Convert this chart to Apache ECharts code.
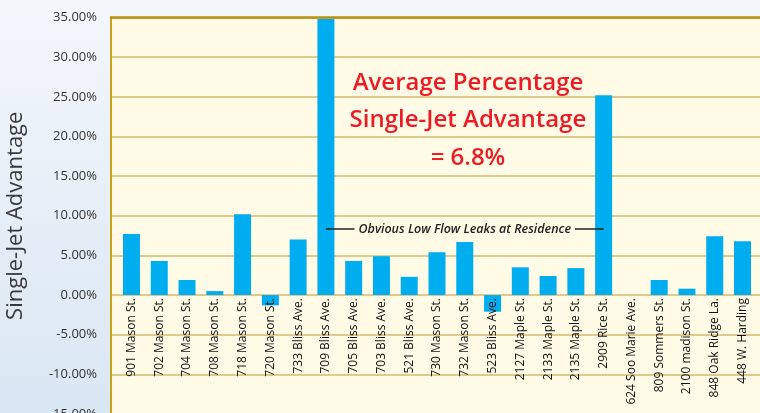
<!DOCTYPE html>
<html>
<head>
<meta charset="utf-8">
<script src="https://cdn.jsdelivr.net/npm/echarts@6/dist/echarts.min.js"></script>
<style>
  html, body { margin: 0; padding: 0; }
  #main { width: 760px; height: 413px; }
</style>
</head>
<body>
<div id="main"></div>
<script>
// addresses along the x axis
const addresses = [
  '901 Mason St.', '702 Mason St.', '704 Mason St.', '708 Mason St.', '718 Mason St.',
  '720 Mason St.', '733 Bliss Ave.', '709 Bliss Ave.', '705 Bliss Ave.', '703 Bliss Ave.',
  '521 Bliss Ave.', '730 Mason St.', '732 Mason St.', '523 Bliss Ave.', '2127 Maple St.',
  '2133 Maple St.', '2135 Maple St.', '2909 Rice St.', '624 Soo Marie Ave.', '809 Sommers St.',
  '2100 madison St.', '848 Oak Ridge La.', '448 W. Harding'
]
// single-jet advantage, percent
const advantage = [
  7.7, 4.3, 1.9, 0.5, 10.2,
  -1.3, 7.0, 34.8, 4.3, 4.9,
  2.3, 5.4, 6.7, -2.1, 3.5,
  2.4, 3.4, 25.2, 0, 1.9,
  0.8, 7.4, 6.8
]
// y axis range
const yMin = -15
const yMax = 35
const yStep = 5
// annotation between the two leak residences
const leakFrom = '709 Bliss Ave.'
const leakTo = '2909 Rice St.'
const leakLevel = 8.3
const leakNote = 'Obvious Low Flow Leaks at Residence'
const avgText = 'Average Percentage\nSingle-Jet Advantage\n= 6.8%'

const chart = echarts.init(document.getElementById('main'))

const plotTop = 17.5
const plotBottom = -1
// the address labels hang from the 0% line
const zeroFromBottom = plotBottom + (413 - plotTop - plotBottom) * (0 - yMin) / (yMax - yMin)

const option = {
  backgroundColor: new echarts.graphic.LinearGradient(0, 0, 0, 1, [
    { offset: 0, color: '#f4f7fc' },
    { offset: 1, color: '#d9e6f3' }
  ]),
  textStyle: { fontFamily: 'Open Sans' },
  title: {
    text: avgText,
    left: 463,
    top: 59,
    textAlign: 'center',
    textStyle: {
      color: '#ed1c24',
      fontSize: 24,
      fontWeight: 600,
      lineHeight: 37.5,
      fontFamily: 'Open Sans'
    }
  },
  grid: [
    // frame: cream background, gridlines, y axis
    { left: 111, right: -10, top: plotTop, bottom: plotBottom, show: true, backgroundColor: '#fffbe7', borderWidth: 0, outerBoundsMode: 'none', containLabel: false },
    // bars
    { left: 117.6, right: 3.6, top: plotTop, bottom: plotBottom, outerBoundsMode: 'none', containLabel: false },
    // address labels, bottom edge on the 0% line
    { left: 117.6, right: 3.6, top: plotTop, bottom: zeroFromBottom, outerBoundsMode: 'none', containLabel: false }
  ],
  xAxis: [
    {
      gridIndex: 0,
      type: 'value',
      position: 'top',
      min: 0,
      max: 1,
      axisLine: { show: true, onZero: false, lineStyle: { color: '#b8900c', width: 2.5 } },
      axisTick: { show: false },
      axisLabel: { show: false },
      splitLine: { show: false }
    },
    {
      gridIndex: 1,
      type: 'category',
      data: addresses,
      axisLine: { show: false },
      axisTick: { show: false },
      axisLabel: { show: false }
    },
    {
      gridIndex: 2,
      type: 'category',
      data: addresses,
      z: 10,
      axisLine: { show: false, onZero: false },
      axisTick: { show: false },
      axisLabel: {
        interval: 0,
        rotate: 90,
        margin: 3,
        fontSize: 12,
        color: '#111',
        fontFamily: 'Open Sans'
      }
    }
  ],
  yAxis: [
    {
      gridIndex: 0,
      type: 'value',
      min: yMin,
      max: yMax,
      interval: yStep,
      name: 'Single-Jet Advantage',
      nameLocation: 'middle',
      nameGap: 84,
      nameTextStyle: { fontSize: 22, color: '#3a3a3a', fontFamily: 'Open Sans', fontWeight: 400 },
      axisLine: { show: true, lineStyle: { color: '#c9a21c', width: 2 } },
      axisTick: { show: false },
      axisLabel: {
        margin: 14,
        fontSize: 13,
        color: '#333',
        formatter: v => v.toFixed(2) + '%'
      },
      splitLine: { show: true, lineStyle: { color: '#e0c98c', width: 2 } }
    },
    {
      gridIndex: 1,
      type: 'value',
      min: yMin,
      max: yMax,
      interval: yStep,
      axisLine: { show: false },
      axisTick: { show: false },
      axisLabel: { show: false },
      splitLine: { show: false }
    },
    {
      gridIndex: 2,
      type: 'value',
      min: 0,
      max: yMax,
      interval: yStep,
      axisLine: { show: false },
      axisTick: { show: false },
      axisLabel: { show: false },
      splitLine: { show: false }
    }
  ],
  series: [
    {
      type: 'bar',
      xAxisIndex: 1,
      yAxisIndex: 1,
      data: advantage,
      barWidth: 17,
      itemStyle: { color: '#00aeef' },
      markLine: {
        silent: true,
        symbol: 'none',
        animation: false,
        lineStyle: { color: '#222', width: 1.5, type: 'solid' },
        label: {
          show: true,
          position: 'middle',
          verticalAlign: 'middle',
          formatter: leakNote,
          fontStyle: 'italic',
          fontWeight: 600,
          fontSize: 12.5,
          color: '#222',
          backgroundColor: '#fffbe7',
          padding: [1, 4],
          distance: 0
        },
        data: [[{ coord: [leakFrom, leakLevel] }, { coord: [leakTo, leakLevel] }]]
      }
    }
  ]
}

option && chart.setOption(option)
</script>
</body>
</html>
